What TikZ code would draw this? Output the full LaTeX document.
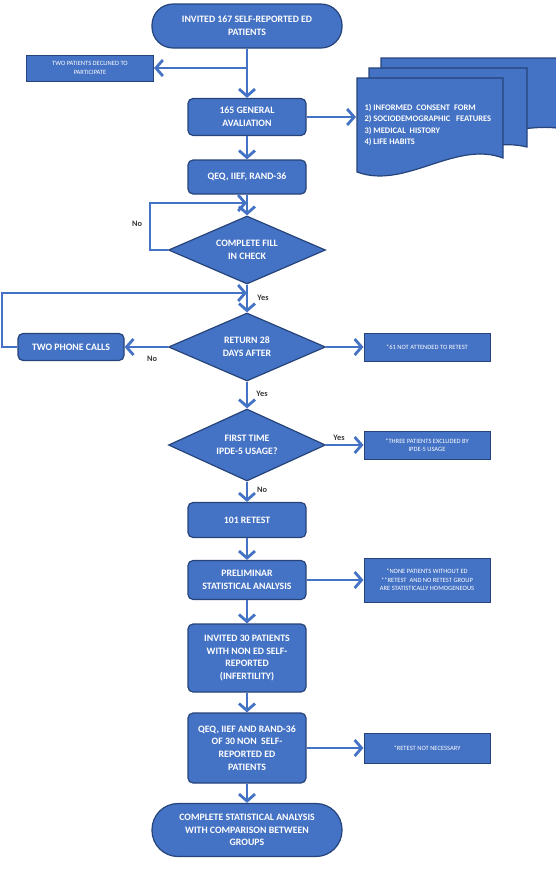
\documentclass[tikz,border=0pt]{standalone}
\usepackage{fontspec}
\setmainfont{Carlito}
\usetikzlibrary{arrows.meta,shapes.geometric}
\definecolor{boxblue}{RGB}{68,114,196}
\definecolor{boxline}{RGB}{38,68,122}
\definecolor{lblgray}{RGB}{55,55,55}
\tikzset{
  base/.style={draw=boxline, line width=1.2pt, fill=boxblue, text=white,
    font=\bfseries\fontsize{9.8}{12.8}\selectfont, align=center, inner sep=2pt},
  term/.style={base, rounded corners=21pt, minimum width=190pt, minimum height=44pt},
  proc/.style={base, rounded corners=5pt, minimum width=118pt, minimum height=35pt},
  note/.style={base, line width=1pt, font=\fontsize{6.5}{8.3}\selectfont,
    minimum width=126pt, minimum height=28pt},
  dec/.style={base, diamond, shape aspect=2.3, inner sep=0pt,
    minimum width=157pt, minimum height=68pt},
  sheet/.style={draw=boxline, line width=1.2pt, fill=boxblue},
  flow/.style={draw=boxblue, line width=2.8pt, -{Straight Barb[length=7pt,width=16pt]}},
  lbl/.style={text=lblgray, font=\bfseries\fontsize{8.3}{9}\selectfont},
}
\begin{document}
\begin{tikzpicture}[x=1pt,y=-1pt]
\useasboundingbox (0,0) rectangle (555,871);

\node[term] (invite) at (247,26) {INVITED 167 SELF-REPORTED ED\\PATIENTS};
\node[note, minimum width=127pt, minimum height=26pt] (declined) at (90,68) {TWO PATIENTS DECLINED TO\\PARTICIPATE};
\node[proc, minimum height=37pt] (general) at (247,117) {165 GENERAL\\AVALIATION};
\node[proc, minimum height=34pt] (qeq) at (247,177) {QEQ, IIEF, RAND-36};
\node[dec] (fill) at (247,250) {COMPLETE FILL\\IN CHECK};
\node[dec] (return) at (247,347) {RETURN 28\\DAYS AFTER};
\node[proc, minimum width=106pt, minimum height=27pt] (phone) at (71,347) {TWO PHONE CALLS};
\node[note] (absent) at (427,347) {*61 NOT ATTENDED TO RETEST};
\node[dec, minimum height=72pt] (ipde) at (247,445) {FIRST TIME\\IPDE-5 USAGE?};
\node[note] (excluded) at (427,445) {*THREE PATIENTS EXCLUDED BY\\IPDE-5 USAGE};
\node[proc] (retest) at (247,520) {101 RETEST};
\node[proc, minimum height=39pt] (prelim) at (247,580) {PRELIMINAR\\STATISTICAL ANALYSIS};
\node[note, minimum height=44pt] (homog) at (427,580) {*NONE PATIENTS WITHOUT ED\\**RETEST\ \ AND NO RETEST GROUP\\ARE STATISTICALLY HOMOGENEOUS};
\node[proc, minimum height=68pt] (invite30) at (247,658) {INVITED 30 PATIENTS\\WITH NON ED SELF-\\REPORTED\\(INFERTILITY)};
\node[proc, minimum height=70pt] (qeq30) at (247,748) {QEQ, IIEF AND RAND-36\\OF 30 NON\ \ SELF-\\REPORTED ED\\PATIENTS};
\node[note, minimum height=30pt] (noretest) at (427,748) {*RETEST NOT NECESSARY};
\node[term, minimum height=53pt, rounded corners=26pt] (final) at (247,830) {COMPLETE STATISTICAL ANALYSIS\\WITH COMPARISON BETWEEN\\GROUPS};

% stacked forms
\draw[sheet] (381,58) -- (570,58) -- (570,130) .. controls (540,125) .. (381,150) -- cycle;
\draw[sheet] (369,68) -- (527,68) -- (527,147) .. controls (480,135) and (420,175) .. (369,160) -- cycle;
\draw[sheet] (357,78) -- (503,78) -- (503,158) .. controls (455,140) and (405,190) .. (357,172) -- cycle;
\node[anchor=west, text=white, align=left, font=\bfseries\fontsize{8.5}{11.5}\selectfont] (forms) at (361,125)
  {1) INFORMED\ \ CONSENT\ \ FORM\\2) SOCIODEMOGRAPHIC\ \ \ FEATURES\\3) MEDICAL\ \ HISTORY\\4) LIFE HABITS};
\coordinate (formsin) at (356,117);

\coordinate (split) at (247,68);
\coordinate (loopA) at (150,203);
\coordinate (loopB) at (2,293);

\draw[flow] (invite) -- (general);
\draw[flow] (split) -- (declined);
\draw[flow] (general) -- (formsin);
\draw[flow] (general) -- (qeq);
\draw[flow] (qeq) -- (fill);
\draw[flow] (fill.west) -| (loopA) -- (fill.north |- loopA);
\draw[flow] (fill) -- (return);
\draw[flow] (phone.west) -| (loopB) -- (return.north |- loopB);
\draw[flow] (return) -- (phone);
\draw[flow] (return) -- (absent);
\draw[flow] (return) -- (ipde);
\draw[flow] (ipde) -- (excluded);
\draw[flow] (ipde) -- (retest);
\draw[flow] (retest) -- (prelim);
\draw[flow] (prelim) -- (homog);
\draw[flow] (prelim) -- (invite30);
\draw[flow] (invite30) -- (qeq30);
\draw[flow] (qeq30) -- (noretest);
\draw[flow] (qeq30) -- (final);

\node[lbl] (no1) at (137,224) {No};
\node[lbl] (yes1) at (263,298) {Yes};
\node[lbl] (no2) at (152,359) {No};
\node[lbl] (yes2) at (262,394) {Yes};
\node[lbl] (yes3) at (339,438) {Yes};
\node[lbl] (no3) at (262,490) {No};
\end{tikzpicture}
\end{document}
